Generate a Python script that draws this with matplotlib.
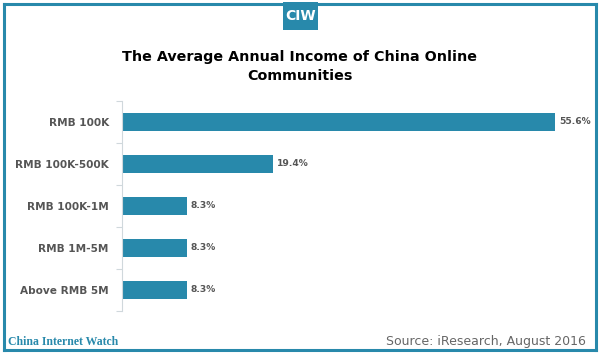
import matplotlib.pyplot as plt
from matplotlib.patches import Rectangle
from matplotlib.lines import Line2D

categories = ["RMB 100K", "RMB 100K-500K", "RMB 100K-1M", "RMB 1M-5M", "Above RMB 5M"]
values = [55.6, 19.4, 8.3, 8.3, 8.3]
labels = ["55.6%", "19.4%", "8.3%", "8.3%", "8.3%"]

W, H = 600, 356
fig = plt.figure(figsize=(W / 100, H / 100), dpi=100)
fig.patch.set_facecolor("white")

teal = "#2889ab"

# plot area: x 122..~600px, y 101..311px
ax = fig.add_axes([122 / W, 1 - 311 / H, 470 / W, 210 / H])
n = len(categories)
ypos = list(range(n))
ax.barh(ypos, values, height=0.45, color=teal, edgecolor="none")
ax.set_ylim(n - 0.5, -0.5)
ax.set_xlim(0, 470 / 7.79)
ax.set_yticks(ypos)
ax.set_yticklabels(categories, fontsize=7.6, fontweight="bold", color="#555555")
ax.tick_params(axis="y", length=0, pad=9.5)
ax.set_xticks([])
for s in ["top", "right", "bottom"]:
    ax.spines[s].set_visible(False)
ax.spines["left"].set_color("#d0d8dc")
ax.spines["left"].set_linewidth(0.8)
# minor ticks at category boundaries
ax.set_yticks([i - 0.5 for i in range(n + 1)], minor=True)
ax.tick_params(axis="y", which="minor", length=4, color="#d0d8dc", width=0.8)
for y, v, lab in zip(ypos, values, labels):
    ax.text(v + 0.5, y, lab, va="center", ha="left", fontsize=6.6,
            fontweight="bold", color="#555555")

# title
fig.text(0.5, 1 - 57 / H, "The Average Annual Income of China Online",
         ha="center", va="center", fontsize=10.3, fontweight="bold", color="black")
fig.text(0.5, 1 - 76 / H, "Communities",
         ha="center", va="center", fontsize=10.3, fontweight="bold", color="black")

# frame
bx0, by0, bx1, by1 = 4, 4, 596, 350
def fx(px):
    return px / W
def fy(py):
    return 1 - py / H
lw = 2.2
fig.add_artist(Line2D([fx(bx0), fx(283)], [fy(by0), fy(by0)], color=teal, lw=lw))
fig.add_artist(Line2D([fx(318), fx(bx1)], [fy(by0), fy(by0)], color=teal, lw=lw))
fig.add_artist(Line2D([fx(bx0), fx(bx0)], [fy(by0), fy(by1)], color=teal, lw=lw))
fig.add_artist(Line2D([fx(bx1), fx(bx1)], [fy(by0), fy(by1)], color=teal, lw=lw))
fig.add_artist(Line2D([fx(bx0), fx(bx1)], [fy(by1), fy(by1)], color=teal, lw=lw))

# CIW logo
fig.add_artist(Rectangle((fx(283), fy(30)), 35 / W, 28 / H, transform=fig.transFigure,
                         facecolor=teal, edgecolor="none"))
fig.text(fx(300.5), fy(16), "CIW", ha="center", va="center", fontsize=10,
         fontweight="bold", color="white", family="DejaVu Sans Condensed")

# footer
fig.text(fx(8), fy(342), "China Internet Watch", ha="left", va="center",
         fontsize=8.5, fontweight="bold", color=teal, family="Liberation Serif")
fig.text(fx(586), fy(342), "Source: iResearch, August 2016", ha="right", va="center",
         fontsize=9, color="#666666")

fig.savefig("out.png", dpi=100, facecolor="white")
